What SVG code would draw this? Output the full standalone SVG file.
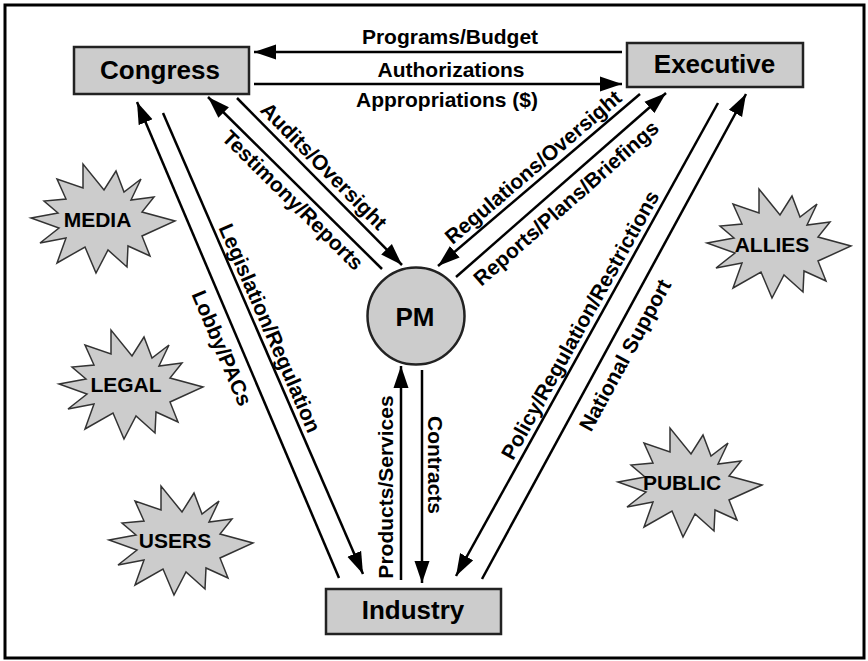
<svg xmlns="http://www.w3.org/2000/svg" xmlns:xlink="http://www.w3.org/1999/xlink" width="868" height="661" viewBox="0 0 868 661">
<style>
.box{fill:#cccccc;stroke:#222;stroke-width:2.5}
.star{fill:#cccccc;stroke:#333;stroke-width:1.5;stroke-linejoin:miter}
.big{font-family:"Liberation Sans",Arial,sans-serif;font-weight:bold;font-size:26px;fill:#000;text-anchor:middle}
.st{font-family:"Liberation Sans",Arial,sans-serif;font-weight:bold;font-size:21px;fill:#000;text-anchor:middle}
.lb{font-family:"Liberation Sans",Arial,sans-serif;font-weight:bold;font-size:21px;fill:#000;text-anchor:middle}
.ln{stroke:#000;stroke-width:2.5;fill:none;marker-end:url(#ah)}
</style>
<defs>
<marker id="ah" markerUnits="userSpaceOnUse" markerWidth="22" markerHeight="16" refX="22" refY="7.5" orient="auto" viewBox="0 0 22 15">
<path d="M0,0 L22,7.5 L0,15 z" fill="#000"/>
</marker>
<polygon id="burst" points="-69,0 -42,-5 -56,-17 -34,-19 -43,-39 -17,-30 -17,-54 4,-28 16,-47 24,-26 41,-39 31,-18 54,-21 42,-6 75,3 42,18 50,38 28,28 27,49 8,32 -4,55 -15,29 -43,45 -34,20 -60,25 -41,10"/>
</defs>
<rect x="5" y="5" width="859" height="653" fill="#fff" stroke="#000" stroke-width="3"/>

<g id="connectors">
<line class="ln" x1="622" y1="52" x2="254" y2="52"/>
<line class="ln" x1="254" y1="84" x2="622" y2="84"/>
<line class="ln" x1="339" y1="578" x2="137" y2="102"/>
<line class="ln" x1="163" y1="113" x2="363" y2="574"/>
<line class="ln" x1="382" y1="269" x2="208" y2="97"/>
<line class="ln" x1="237" y1="98" x2="402" y2="265"/>
<line class="ln" x1="640" y1="94" x2="438" y2="266"/>
<line class="ln" x1="456" y1="277" x2="666" y2="93"/>
<line class="ln" x1="718" y1="103" x2="456" y2="576"/>
<line class="ln" x1="482" y1="579" x2="746" y2="94"/>
<line class="ln" x1="401" y1="580" x2="401" y2="366"/>
<line class="ln" x1="422" y1="370" x2="422" y2="583"/>
<text class="lb" x="450" y="44">Programs/Budget</text>
<text class="lb" x="451" y="77">Authorizations</text>
<text class="lb" x="447" y="107">Appropriations ($)</text>
<text class="lb" transform="translate(222,348) rotate(67)" dy="0.35em">Lobby/PACs</text>
<text class="lb" transform="translate(270,328) rotate(66.5)" dy="0.35em">Legislation/Regulation</text>
<text class="lb" transform="translate(324,166) rotate(45.3)" dy="0.35em">Audits/Oversight</text>
<text class="lb" transform="translate(293,200) rotate(44.7)" dy="0.35em">Testimony/Reports</text>
<text class="lb" transform="translate(533,167) rotate(-40.4)" dy="0.35em">Regulations/Oversight</text>
<text class="lb" transform="translate(566,203) rotate(-41.2)" dy="0.35em">Reports/Plans/Briefings</text>
<text class="lb" transform="translate(580,325) rotate(-61)" dy="0.35em">Policy/Regulation/Restrictions</text>
<text class="lb" transform="translate(625,355) rotate(-61.4)" dy="0.35em">National Support</text>
<text class="lb" transform="translate(386,487) rotate(-90)" dy="0.35em">Products/Services</text>
<text class="lb" transform="translate(435,465) rotate(90)" dy="0.35em">Contracts</text>
</g>

<g id="congress">
<rect class="box" x="74" y="47" width="175" height="47"/>
<text class="big" x="160" y="79">Congress</text>
</g>
<g id="executive">
<rect class="box" x="627" y="43" width="176" height="44"/>
<text class="big" x="714.5" y="73">Executive</text>
</g>
<g id="industry">
<rect class="box" x="326" y="589" width="175" height="45"/>
<text class="big" x="413" y="619">Industry</text>
</g>
<g id="pm">
<circle class="box" cx="416" cy="316" r="48.5"/>
<text class="big" x="415" y="326">PM</text>
</g>

<g id="media">
<use xlink:href="#burst" href="#burst" class="star" transform="translate(100,218)"/>
<text class="st" x="97.5" y="227">MEDIA</text>
</g>
<g id="legal">
<use xlink:href="#burst" href="#burst" class="star" transform="translate(128,384)"/>
<text class="st" x="126" y="392">LEGAL</text>
</g>
<g id="users">
<use xlink:href="#burst" href="#burst" class="star" transform="translate(178,540)"/>
<text class="st" x="175" y="548">USERS</text>
</g>
<g id="allies">
<use xlink:href="#burst" href="#burst" class="star" transform="translate(776,243)"/>
<text class="st" x="772" y="252">ALLIES</text>
</g>
<g id="public">
<use xlink:href="#burst" href="#burst" class="star" transform="translate(687,482)"/>
<text class="st" x="682" y="490">PUBLIC</text>
</g>
</svg>
